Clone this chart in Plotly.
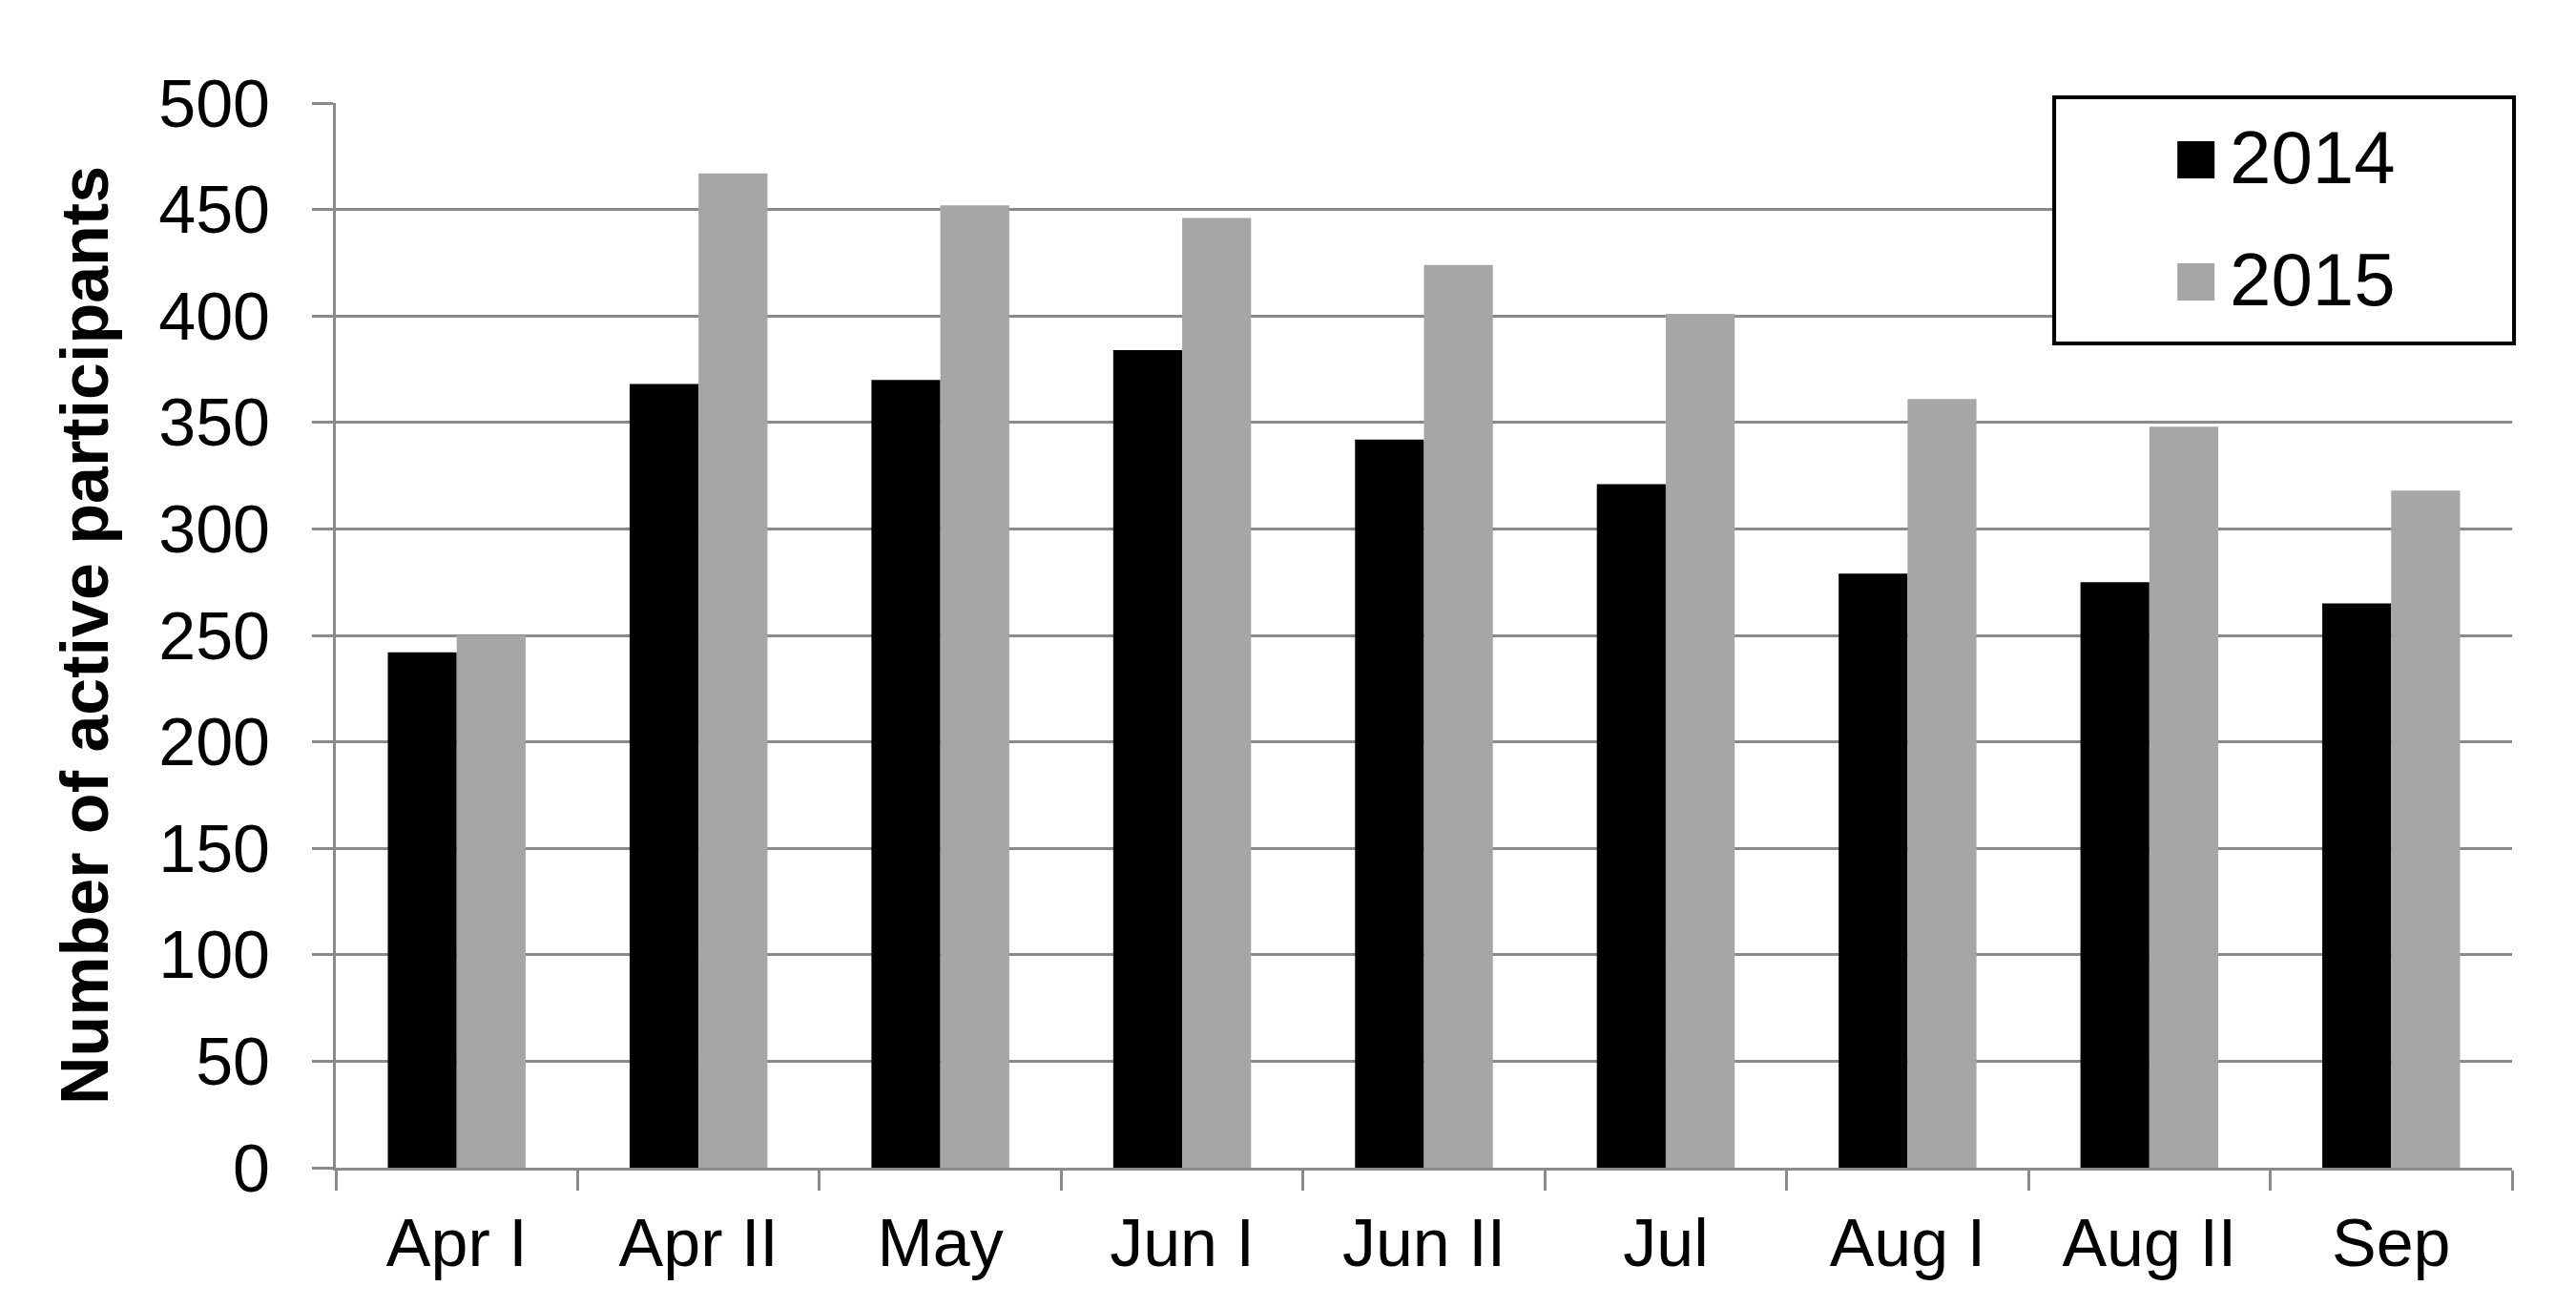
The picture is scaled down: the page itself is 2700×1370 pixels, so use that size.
import plotly.graph_objects as go

periods = ["Apr I", "Apr II", "May", "Jun I", "Jun II", "Jul", "Aug I", "Aug II", "Sep"]
participants_2014 = [242, 368, 370, 384, 342, 321, 279, 275, 265]
participants_2015 = [250, 467, 452, 446, 424, 401, 361, 348, 318]
series_names = ["2014", "2015"]
series_colors = ["#000000", "#a6a6a6"]
y_ticks = [0, 50, 100, 150, 200, 250, 300, 350, 400, 450, 500]

FONT = "Liberation Sans, Arial, sans-serif"
GREY = "#8a8a8a"

fig = go.Figure()
for name, values, color in zip(series_names, [participants_2014, participants_2015], series_colors):
    fig.add_trace(go.Bar(x=periods, y=values, name=name, marker_color=color,
                         marker_line_width=0, showlegend=False))

# legend drawn by hand so the swatches can be as big as in the original
shapes = [dict(type="rect", xref="paper", yref="paper", x0=0.7896, x1=1.0009, y0=0.7742, y1=1.0054,
               line=dict(color="black", width=4), fillcolor="white", layer="above")]
annotations = []
for name, color, yc in zip(series_names, series_colors, [0.9467, 0.8320]):
    shapes.append(dict(type="rect", xref="paper", yref="paper", x0=0.8462, x1=0.8633,
                       y0=yc - 0.0175, y1=yc + 0.0175, line_width=0, fillcolor=color, layer="above"))
    annotations.append(dict(text=name, xref="paper", yref="paper", x=0.8692, y=yc + 0.002,
                            xanchor="left", yanchor="middle", showarrow=False,
                            font=dict(family=FONT, size=78, color="black")))

fig.update_layout(
    width=2700, height=1370,
    margin=dict(l=344, r=75, t=100, b=154),
    paper_bgcolor="white", plot_bgcolor="white",
    barmode="group", bargap=0.43, bargroupgap=0,
    font=dict(family=FONT, color="black"),
    shapes=shapes, annotations=annotations,
)
fig.update_xaxes(
    type="category", tickson="boundaries", ticks="outside", ticklen=21, tickwidth=3, tickcolor=GREY,
    showline=True, linecolor=GREY, linewidth=3, showgrid=False,
    tickfont=dict(family=FONT, size=70, color="black"), ticklabelstandoff=16,
)
fig.update_yaxes(
    range=[0, 500], tickvals=y_ticks, ticks="outside", ticklen=22, tickwidth=3, tickcolor=GREY,
    showline=True, linecolor=GREY, linewidth=3,
    showgrid=True, gridcolor=GREY, gridwidth=3, zeroline=False,
    tickfont=dict(family=FONT, size=70, color="black"), ticklabelstandoff=30,
    title=dict(text="Number of active participants", standoff=30,
               font=dict(family=FONT, size=70, color="black", weight="bold")),
)

fig.write_html("out.html")
